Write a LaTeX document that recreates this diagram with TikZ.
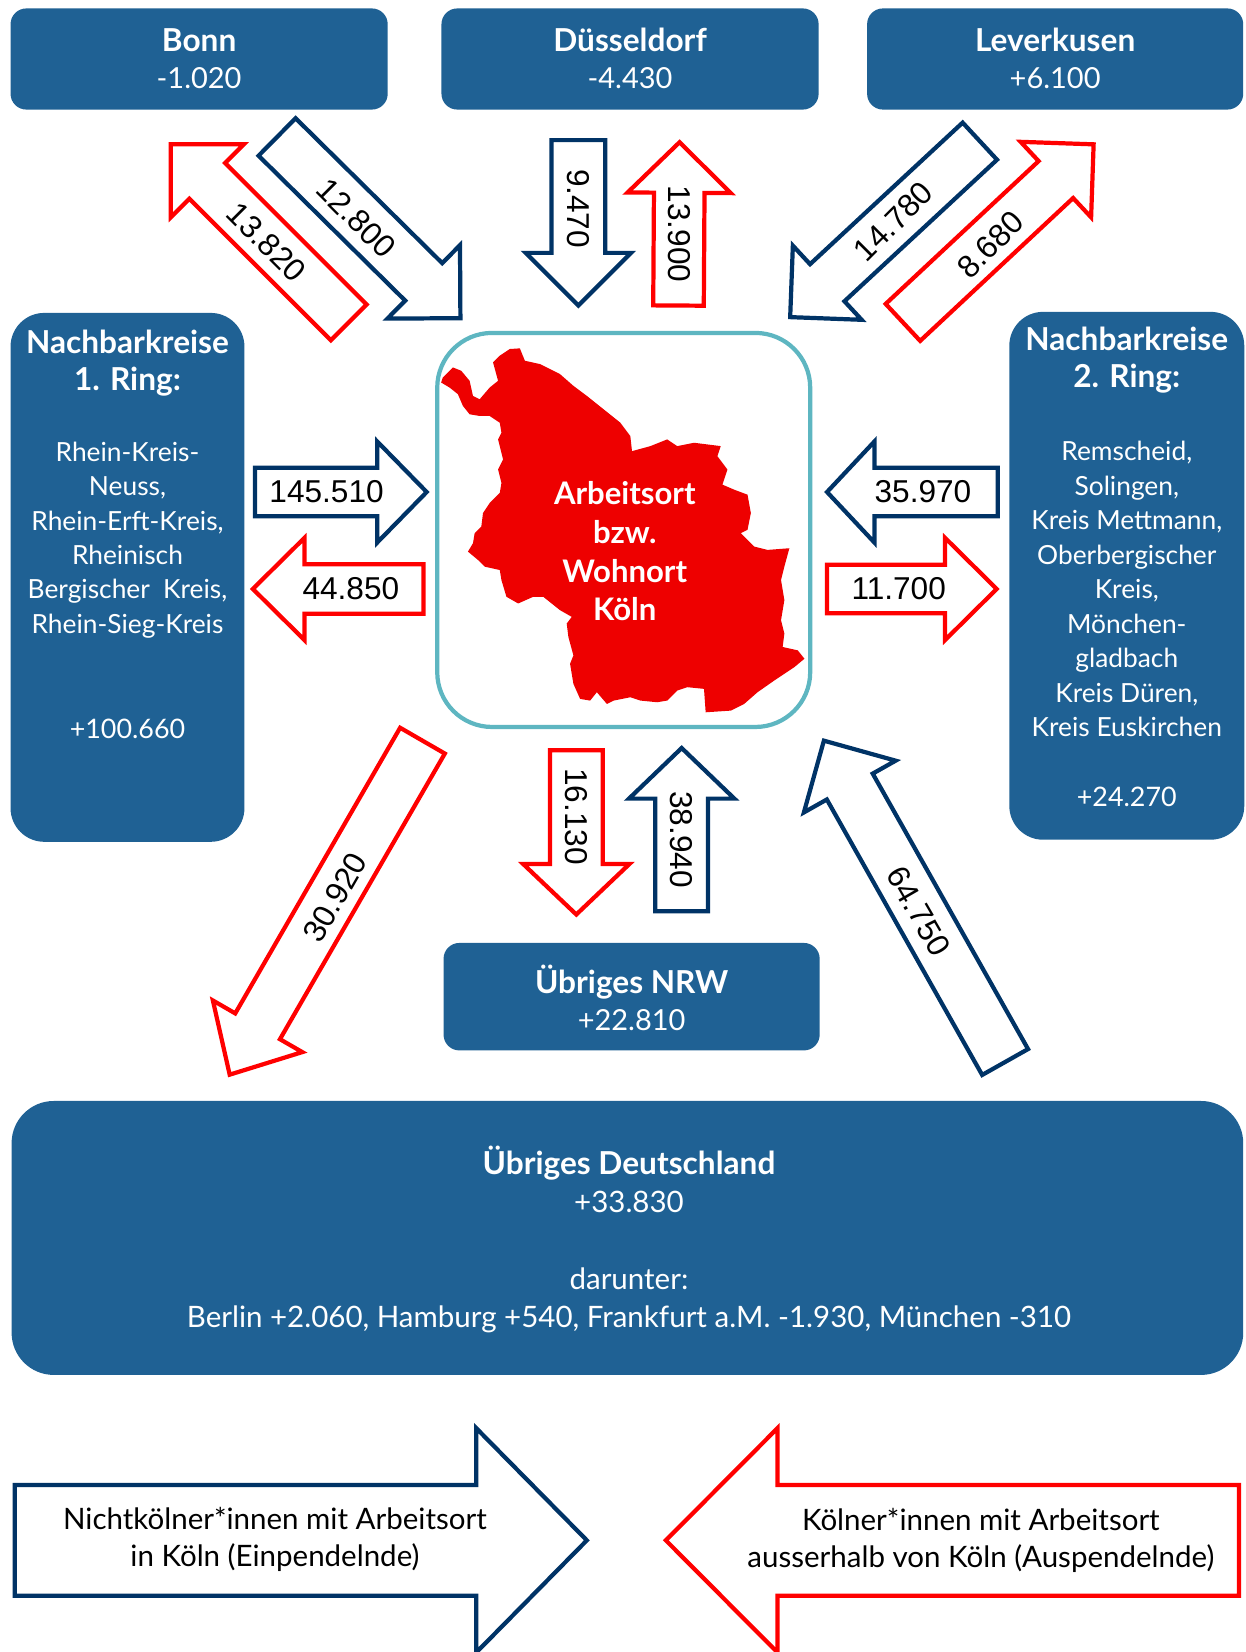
\documentclass[tikz,border=0pt]{standalone}
\usepackage{fontspec}
\setmainfont{Lato}[Numbers=Monospaced]
\newfontfamily\arialfont{Liberation Sans}
\usetikzlibrary{calc}

\definecolor{boxblue}{RGB}{31,97,148}
\definecolor{navy}{RGB}{0,51,102}
\definecolor{flowred}{RGB}{255,0,0}
\definecolor{mapred}{RGB}{238,0,0}
\definecolor{tealline}{RGB}{94,182,193}

% #1 name, #2 style, #3 tail, #4 tip, #5 shaft half width, #6 head half width, #7 head length
\newcommand\blockarrow[7]{%
  \coordinate (#1-t) at #3;
  \coordinate (#1-p) at #4;
  \coordinate (#1-b) at ($(#1-p)!#7pt!(#1-t)$);
  \draw[#2] ($(#1-t)!#5pt!90:(#1-p)$) -- ($(#1-b)!#5pt!90:(#1-p)$) -- ($(#1-b)!#6pt!90:(#1-p)$) -- (#1-p)
    -- ($(#1-b)!#6pt!-90:(#1-p)$) -- ($(#1-b)!#5pt!-90:(#1-p)$) -- ($(#1-t)!#5pt!-90:(#1-p)$) -- cycle;
}
\newcommand\boxtitle[1]{{\fontsize{30}{35}\selectfont\bfseries #1}}

\begin{document}
\begin{tikzpicture}[x=1pt,y=-1pt,
  cbox/.style={fill=boxblue, draw=none, inner sep=0pt},
  wtext/.style={text=white, align=center, inner sep=0pt, font=\fontsize{27.5}{35}\selectfont},
  btext/.style={text=black, align=center, inner sep=0pt, font=\fontsize{28}{35}\selectfont},
  inflow/.style={draw=navy, line width=4pt, fill=white},
  outflow/.style={draw=flowred, line width=4pt, fill=white},
  flowlabel/.style={font=\arialfont\fontsize{30}{36}\selectfont, text=black, inner sep=0pt},
]
\useasboundingbox (0,0) rectangle (1182,1568);

% ---------- boxes ----------
\node[cbox, rounded corners=15pt, minimum width=358pt, minimum height=96pt] (bonn) at (189,56) {};
\node[cbox, rounded corners=15pt, minimum width=358pt, minimum height=96pt] (dus) at (598,56) {};
\node[cbox, rounded corners=15pt, minimum width=357pt, minimum height=96pt] (lev) at (1001.5,56) {};
\node[wtext] (bonnt) at (189,55.5) {\boxtitle{Bonn}\\-1.020};
\node[wtext] (dust) at (598,55.5) {\boxtitle{Düsseldorf}\\-4.430};
\node[wtext] (levt) at (1001.5,55.5) {\boxtitle{Leverkusen}\\+6.100};

\node[cbox, rounded corners=32pt, minimum width=222pt, minimum height=502pt] (ring1) at (121,548) {};
\node[wtext] (ring1t) at (121,345) {\boxtitle{Nachbarkreise}\\\boxtitle{1. Ring:}};
\node[wtext, font=\fontsize{25}{32.6}\selectfont] (ring1b) at (121,512.5)
  {Rhein-Kreis-\\Neuss,\\Rhein-Erft-Kreis,\\Rheinisch\\Bergischer\hspace{0.5em}Kreis,\\Rhein-Sieg-Kreis};
\node[wtext, font=\fontsize{25.5}{32.6}\selectfont] (ring1v) at (121,692) {+100.660};

\node[cbox, rounded corners=32pt, minimum width=223pt, minimum height=501pt] (ring2) at (1069.5,546.5) {};
\node[wtext] (ring2t) at (1069.5,342) {\boxtitle{Nachbarkreise}\\\boxtitle{2. Ring:}};
\node[wtext, font=\fontsize{25}{32.75}\selectfont] (ring2b) at (1069.5,559)
  {Remscheid,\\Solingen,\\Kreis Mettmann,\\Oberbergischer\\Kreis,\\Mönchen-\\gladbach\\Kreis Düren,\\Kreis Euskirchen};
\node[wtext, font=\fontsize{25.5}{32.75}\selectfont] (ring2v) at (1069.5,756) {+24.270};

\node[cbox, rounded corners=15pt, minimum width=357pt, minimum height=102pt] (nrw) at (599.5,946) {};
\node[wtext] (nrwt) at (599.5,947) {\boxtitle{Übriges NRW}\\+22.810};

\node[cbox, rounded corners=40pt, minimum width=1169pt, minimum height=260pt] (de) at (595.5,1175) {};
\node[wtext, font=\fontsize{28}{36.25}\selectfont] (det) at (597,1176.5)
  {\boxtitle{Übriges Deutschland}\\+33.830\\[0pt] \\darunter:\\Berlin +2.060, Hamburg +540, Frankfurt a.M. -1.930, München -310};

% ---------- centre ----------
\node[draw=tealline, line width=4pt, fill=white, rounded corners=52pt, minimum width=354pt, minimum height=374pt] (koeln) at (592,503) {};
\begin{scope}[shift={(379,283.6)}, scale=0.3178]
\fill[mapred] (130,235) -- (160,205) -- (185,215) -- (210,245) -- (220,290) -- (240,300) -- (270,265)
 -- (295,245) -- (280,190) -- (300,170) -- (330,150) -- (360,148) -- (375,185) -- (420,195) -- (480,225)
 -- (520,260) -- (560,290) -- (610,330) -- (660,370) -- (690,410) -- (695,455) -- (750,440) -- (800,420)
 -- (830,440) -- (880,430) -- (960,440) -- (950,470) -- (980,510) -- (965,555) -- (1000,570) -- (1040,585)
 -- (1050,640) -- (1040,690) -- (1020,700) -- (1060,740) -- (1100,750) -- (1165,745) -- (1150,800)
 -- (1140,840) -- (1150,900) -- (1140,960) -- (1150,1000) -- (1145,1040) -- (1190,1050) -- (1210,1075)
 -- (1180,1100) -- (1120,1140) -- (1070,1175) -- (1030,1210) -- (990,1230) -- (915,1235) -- (910,1165)
 -- (860,1160) -- (830,1170) -- (800,1200) -- (770,1205) -- (720,1200) -- (690,1190) -- (640,1200)
 -- (620,1210) -- (590,1175) -- (570,1200) -- (540,1195) -- (520,1150) -- (510,1090) -- (520,1065)
 -- (505,1010) -- (500,970) -- (515,950) -- (480,930) -- (430,890) -- (400,890) -- (355,910) -- (320,890)
 -- (305,840) -- (300,810) -- (255,800) -- (235,780) -- (205,755) -- (220,730) -- (225,700) -- (245,680)
 -- (250,640) -- (270,610) -- (300,580) -- (305,550) -- (295,510) -- (310,480) -- (300,440) -- (295,420)
 -- (305,400) -- (300,370) -- (270,350) -- (240,350) -- (210,345) -- (190,320) -- (175,285) -- (150,265)
 -- (125,250) -- cycle;
\end{scope}
\node[text=white, align=center, inner sep=0pt, font=\fontsize{29.5}{36.7}\selectfont\bfseries] (koelnt) at (593,523.5)
  {Arbeitsort\\bzw.\\Wohnort\\Köln};

% ---------- flow arrows ----------
\blockarrow{a1}{inflow}{(263,130)}{(437,302)}{25}{49}{49}
\blockarrow{a2}{outflow}{(331,306)}{(162,137)}{24}{49}{49}
\blockarrow{a3}{inflow}{(549,133)}{(549,290)}{25.5}{50}{50}
\blockarrow{a4}{outflow}{(644,290)}{(645,135)}{24}{49}{48}
\blockarrow{a5}{inflow}{(930,134)}{(750,301)}{24}{48}{48}
\blockarrow{a6}{outflow}{(857,306)}{(1038,137)}{24}{49}{49}
\blockarrow{a7}{inflow}{(242,467)}{(405,467)}{23}{48}{47}
\blockarrow{a8}{outflow}{(402,559)}{(240,559)}{23.5}{48.5}{49}
\blockarrow{a9}{inflow}{(947,467)}{(785,467)}{23}{48}{45}
\blockarrow{a10}{outflow}{(785,559)}{(946,559)}{23}{48.5}{49}
\blockarrow{a11}{outflow}{(547,712)}{(547,868)}{25}{50.5}{48}
\blockarrow{a12}{inflow}{(647,865)}{(647,710)}{25}{50}{48}
\blockarrow{a13}{outflow}{(401,703)}{(218,1020)}{24.5}{49}{53}
\blockarrow{a14}{inflow}{(954,1008)}{(782,703)}{25}{50}{50}

\node[flowlabel, rotate=-45] (l1) at (338,207) {12.800};
\node[flowlabel, rotate=-45] (l2) at (253,230) {13.820};
\node[flowlabel, rotate=-90] (l3) at (549,198) {9.470};
\node[flowlabel, rotate=-90] (l4) at (645,222) {13.900};
\node[flowlabel, rotate=45] (l5) at (848,210) {14.780};
\node[flowlabel, rotate=45] (l6) at (940,232) {8.680};
\node[flowlabel] (l7) at (310,467) {145.510};
\node[flowlabel] (l8) at (333,559) {44.850};
\node[flowlabel] (l9) at (876,467) {35.970};
\node[flowlabel] (l10) at (853,559) {11.700};
\node[flowlabel, rotate=-90] (l11) at (547,775) {16.130};
\node[flowlabel, rotate=-90] (l12) at (647,797) {38.940};
\node[flowlabel, rotate=60] (l13) at (318,852) {30.920};
\node[flowlabel, rotate=-60] (l14) at (872,865) {64.750};

% ---------- legend ----------
\blockarrow{g1}{inflow}{(14,1462)}{(557,1462)}{52.5}{106.5}{105}
\blockarrow{g2}{outflow}{(1176,1462)}{(632,1462)}{52.5}{106.5}{106}
\node[btext] (g1t) at (261,1461.5) {Nichtkölner*innen mit Arbeitsort\\in Köln (Einpendelnde)};
\node[btext] (g2t) at (931,1462) {Kölner*innen mit Arbeitsort\\ausserhalb von Köln (Auspendelnde)};
\end{tikzpicture}
\end{document}
